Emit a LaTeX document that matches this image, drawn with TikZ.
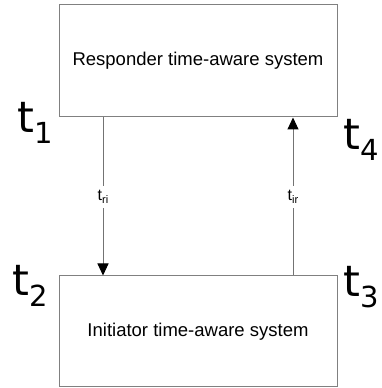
\documentclass[tikz,border=0pt]{standalone}
\usepackage{fontspec}
\setmainfont{Liberation Sans}
\newfontfamily\stampfont{DejaVu Sans}
\usetikzlibrary{positioning,arrows.meta}

\tikzstyle{sysbox} = [rectangle, draw=gray, line width=1pt, minimum width=278pt, minimum height=112pt, inner sep=0pt, font=\fontsize{18.5}{20}\selectfont]
\tikzstyle{link} = [draw=gray!90!black, line width=1pt]
\tikzstyle{arrowend} = [-{Triangle[width=11pt,length=12pt,color=black]}]
\tikzstyle{tstamp} = [inner sep=0pt, font=\stampfont\fontsize{43}{43}\selectfont]
\tikzstyle{delaylab} = [fill=white, inner xsep=1pt, inner ysep=4pt, font=\fontsize{16}{16}\selectfont]

\newcommand{\bigsub}[1]{t\raisebox{-11pt}{\fontsize{29}{29}\selectfont #1}}
\newcommand{\smallsub}[1]{t\raisebox{-3.5pt}{\fontsize{11}{11}\selectfont #1}}

\begin{document}
\begin{tikzpicture}[x=1pt, y=1pt]
\useasboundingbox (0,0) rectangle (382,388);
\node [sysbox] (resp) at (198,327) {Responder time-aware system};
\node [sysbox, minimum height=111pt] (init) at (198,56.5) {Initiator time-aware system};

\node [delaylab] (tri) at (103,191) {\smallsub{ri}};
\node [delaylab] (tir) at (293,191) {\smallsub{ir}};

\draw [link] (tri) -- (tri |- resp.south);
\draw [link, arrowend] (tri) -- (tri |- init.north);
\draw [link] (tir) -- (tir |- init.north);
\draw [link, arrowend] (tir) -- (tir |- resp.south);

\node [tstamp] (t1) at (35,265) {\bigsub{1}};
\node [tstamp] (t4) at (361,248) {\bigsub{4}};
\node [tstamp] (t2) at (30,102) {\bigsub{2}};
\node [tstamp] (t3) at (361,101) {\bigsub{3}};
\end{tikzpicture}
\end{document}
